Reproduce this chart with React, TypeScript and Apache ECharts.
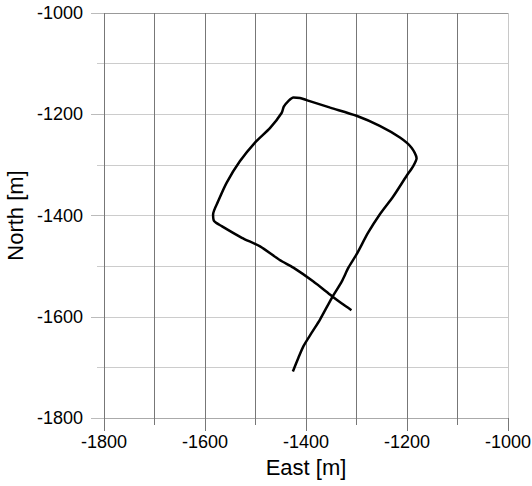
import React, { useEffect, useRef } from "react";
import * as echarts from "echarts";

const eastValues = [
  -1426, -1415, -1405, -1389, -1372, -1349, -1329, -1316, -1300, -1277, -1254, -1227, -1201,
  -1188, -1181, -1191, -1214, -1254, -1300, -1352, -1399, -1412, -1425, -1435, -1444, -1448,
  -1471, -1501, -1531, -1557, -1574, -1584, -1582, -1567, -1527, -1491, -1452, -1425, -1386,
  -1349, -1329, -1310,
];
const northValues = [
  -1708, -1681, -1658, -1632, -1605, -1563, -1530, -1503, -1477, -1434, -1398, -1362, -1322,
  -1303, -1287, -1266, -1246, -1223, -1203, -1187, -1172, -1168, -1167, -1174, -1185, -1197,
  -1227, -1256, -1293, -1335, -1372, -1398, -1411, -1421, -1444, -1461, -1488, -1503, -1530,
  -1559, -1574, -1587,
];

const axisMin = -1800;
const axisMax = -1000;
const majorStep = 200;

export default function App() {
  const ref = useRef<HTMLDivElement>(null);
  useEffect(() => {
    if (!ref.current) return;
    const chart = echarts.init(ref.current, null, { renderer: "svg" });
    const data = eastValues.map((e, i) => [e, northValues[i]]);
    const font = "Liberation Sans, Arial, sans-serif";
    const fmt = (v: number) => String(v);
    chart.setOption({
      animation: false,
      grid: { left: 104, right: 24, top: 13, bottom: 68, containLabel: false, outerBoundsMode: "none" },
      xAxis: {
        type: "value",
        min: axisMin,
        max: axisMax,
        interval: majorStep,
        name: "East [m]",
        nameLocation: "middle",
        nameGap: 38,
        nameTextStyle: { fontSize: 22, color: "#000", fontFamily: font },
        axisLine: { show: false },
        axisTick: { show: true, length: 13, lineStyle: { color: "#777" } },
        minorTick: { show: true, splitNumber: 2, length: 7, lineStyle: { color: "#777" } },
        axisLabel: { fontSize: 18, color: "#000", fontFamily: font, margin: 15, formatter: fmt },
        splitLine: {
          show: true,
          lineStyle: { color: ["#777", "#777", "#777", "#777", "#c8c8c8"], width: 1 },
        },
        minorSplitLine: { show: true, lineStyle: { color: "#777", width: 1 } },
      },
      yAxis: {
        type: "value",
        min: axisMin,
        max: axisMax,
        interval: majorStep,
        name: "North [m]",
        nameLocation: "middle",
        nameGap: 73,
        nameTextStyle: { fontSize: 22, color: "#000", fontFamily: font },
        axisLine: { show: false },
        axisTick: { show: true, length: 13, lineStyle: { color: "#bbb" } },
        minorTick: { show: true, splitNumber: 2, length: 7, lineStyle: { color: "#ccc" } },
        axisLabel: { fontSize: 18, color: "#000", fontFamily: font, margin: 21, formatter: fmt },
        splitLine: {
          show: true,
          lineStyle: { color: ["#aaa", "#ccc", "#ccc", "#ccc", "#999"], width: 1 },
        },
        minorSplitLine: { show: true, lineStyle: { color: "#ccc", width: 1 } },
      },
      series: [
        {
          type: "line",
          data,
          showSymbol: false,
          smooth: 0.25,
          lineStyle: { color: "#000", width: 2.5 },
        },
      ],
    });
    return () => chart.dispose();
  }, []);
  return <div ref={ref} style={{ width: 532, height: 486, position: "absolute", left: 0, top: 0 }} />;
}
